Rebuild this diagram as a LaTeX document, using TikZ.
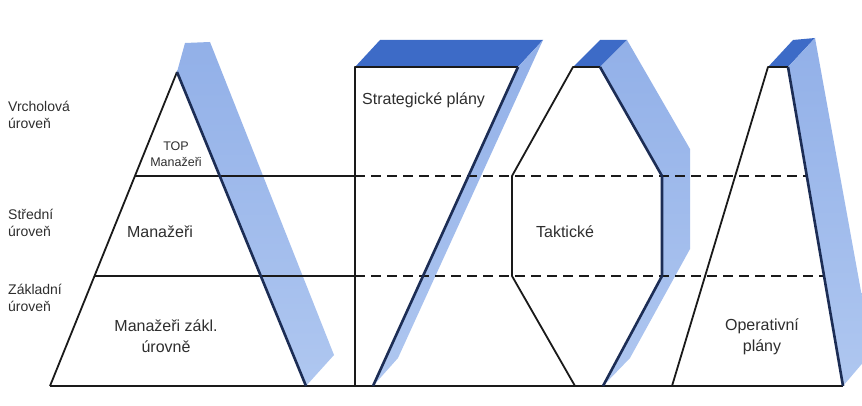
\documentclass[tikz,border=0pt]{standalone}
\usepackage{fontspec}
\setmainfont{Liberation Sans}
\definecolor{linek}{HTML}{1A1A1A}
\definecolor{navyc}{HTML}{1C2D55}
\definecolor{bandc}{HTML}{AFC7F0}
\definecolor{bandd}{HTML}{92B0E8}
\definecolor{topc}{HTML}{3D6BC7}
\definecolor{txtc}{HTML}{2E2E2E}
\begin{document}
\begin{tikzpicture}[x=1pt,y=-1pt,
  edge/.style={draw=linek, line width=1.8pt, line join=round},
  navy/.style={draw=navyc, line width=2.6pt, line join=round},
  band/.style={left color=bandd, right color=bandc, shading angle=0},
  topface/.style={fill=topc},
  dashline/.style={draw=linek, line width=1.8pt, dash pattern=on 10pt off 6pt},
  lbl/.style={text=txtc, font=\fontsize{14}{17}\selectfont, align=left, inner sep=0pt},
  inlbl/.style={text=txtc, font=\fontsize{16}{21}\selectfont, align=center, inner sep=0pt},
  smlbl/.style={text=txtc, font=\fontsize{12.5}{16}\selectfont, align=center, inner sep=0pt}]
\useasboundingbox (0,0) rectangle (862,406);
\clip (0,0) rectangle (862,406);
\fill[white] (0,0) rectangle (862,406);

% key points
\coordinate (pA) at (177,72);
\coordinate (pL) at (50,386);
\coordinate (pR) at (306,386);
\coordinate (sTL) at (355,67);
\coordinate (sTR) at (518,67);
\coordinate (sBR) at (373,386);
\coordinate (sBL) at (355,386);
\coordinate (h1) at (573,67);
\coordinate (h2) at (600,67);
\coordinate (h3) at (662,176);
\coordinate (h4) at (662,276);
\coordinate (h5) at (603,386);
\coordinate (h6) at (575,386);
\coordinate (h7) at (512,276);
\coordinate (h8) at (512,176);
\coordinate (t1) at (768,67);
\coordinate (t2) at (788,67);
\coordinate (t3) at (843,386);
\coordinate (t4) at (672,386);

% blue extrusions
\shade[band] (pA) -- (185,43) -- (210,42) -- (334,355) -- (pR) -- cycle;
\fill[topface] (sTL) -- (380,40) -- (543,40) -- (sTR) -- cycle;
\shade[band] (sTR) -- (543,40) -- (398,358) -- (sBR) -- cycle;
\fill[topface] (h1) -- (600,40) -- (627,40) -- (h2) -- cycle;
\shade[band] (h2) -- (627,40) -- (690,149) -- (690,249) -- (630,358) -- (h5) -- (h4) -- (h3) -- cycle;
\fill[topface] (t1) -- (793,40) -- (815,38) -- (t2) -- cycle;
\shade[band] (t2) -- (815,38) -- (872,352) -- (t3) -- cycle;

% level lines
\coordinate (l1a) at (135,176);
\coordinate (l1b) at (355,176);
\coordinate (l1c) at (807,176);
\coordinate (l2a) at (94,276);
\coordinate (l2b) at (355,276);
\coordinate (l2c) at (824,276);
\draw[edge] (l1a) -- (l1b);
\draw[edge] (l2a) -- (l2b);
\draw[dashline] (l1b) -- (l1c);
\draw[dashline] (l2b) -- (l2c);
\draw[edge] (pL) -- (t3);

% outlines
\draw[edge] (pL) -- (pA);
\draw[navy] (pA) -- (pR);
\draw[edge] (sBL) -- (sTL) -- (sTR);
\draw[navy] (sTR) -- (sBR);
\draw[edge] (h2) -- (h1) -- (h8) -- (h7) -- (h6);
\draw[navy] (h2) -- (h3) -- (h4) -- (h5);
\draw[edge] (t2) -- (t1) -- (t4);
\draw[navy] (t2) -- (t3);

% labels
\node[lbl, anchor=west] (lv) at (8,115) {Vrcholová\\úroveň};
\node[lbl, anchor=west] (ls) at (8,223) {Střední\\úroveň};
\node[lbl, anchor=west] (lz) at (8,298) {Základní\\úroveň};
\node[smlbl] (top) at (176,154) {TOP\\Manažeři};
\node[inlbl] (man) at (160,232) {Manažeři};
\node[inlbl] (manz) at (166,336) {Manažeři zákl.\\úrovně};
\node[inlbl, anchor=west] (str) at (362,100) {Strategické plány};
\node[inlbl] (tak) at (565,232) {Taktické};
\node[inlbl] (op) at (762,337) {Operativní\\plány};
\end{tikzpicture}
\end{document}
